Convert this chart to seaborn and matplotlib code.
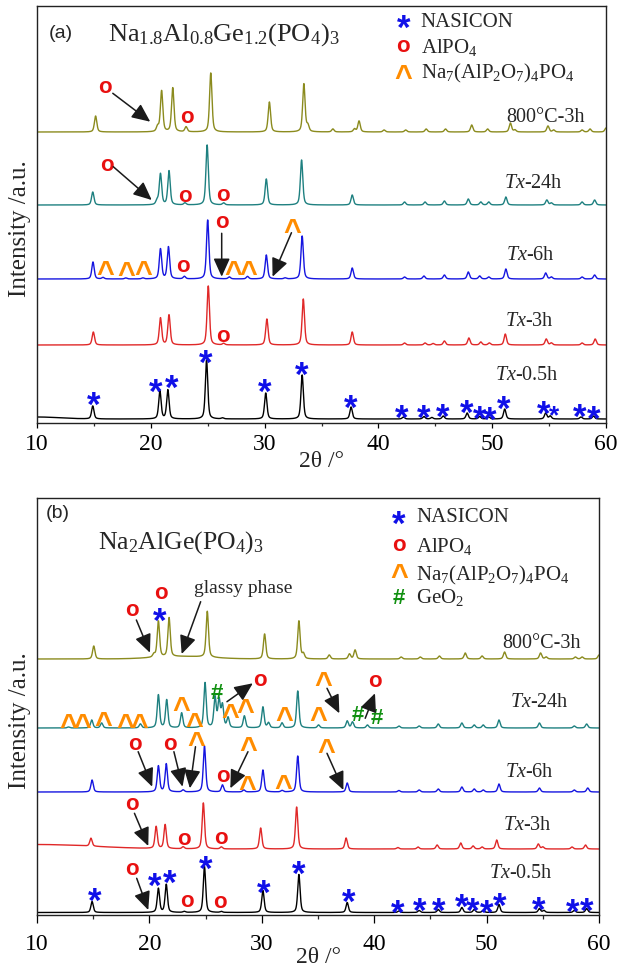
import numpy as np
import pandas as pd
import matplotlib
matplotlib.use("Agg")
import matplotlib.pyplot as plt
import seaborn as sns
from matplotlib.ticker import MultipleLocator

sns.set_theme(style="ticks")
plt.rcParams["font.family"] = ["Liberation Serif", "DejaVu Serif"]
plt.rcParams["mathtext.fontset"] = "custom"
plt.rcParams["mathtext.rm"] = "Liberation Serif"
plt.rcParams["mathtext.it"] = "Liberation Serif:italic"
plt.rcParams["mathtext.default"] = "regular"

# ------------------------------------------------------------------ data
sample_labels = [r"$\mathit{Tx}$-0.5h", r"$\mathit{Tx}$-3h", r"$\mathit{Tx}$-6h",
                 r"$\mathit{Tx}$-24h", "800°C-3h"]
x_ticks = [10, 20, 30, 40, 50, 60]

# panel (a)  Na1.8Al0.8Ge1.2(PO4)3 : peak positions (2theta) / intensities (a.u.)
a_05h_pos = [14.9, 20.8, 21.5, 24.9, 26.3, 30.1, 33.3, 37.6, 42.2, 44.0, 44.7, 45.7,
             47.8, 48.9, 49.7, 51.1, 54.7, 55.1, 57.8, 58.9]
a_05h_int = [13, 28, 29, 59, 1, 26, 44, 12, 2, 2.5, 1.5, 3, 6, 2.5, 2, 10, 6, 3, 2, 3]
a_3h_pos = [14.95, 20.85, 21.6, 25.05, 26.4, 30.2, 33.4, 37.7, 42.3, 44.1, 44.8, 45.8,
            47.95, 49.0, 49.75, 51.15, 54.75, 55.2, 57.9, 59.05]
a_3h_int = [13, 27, 30, 59, 1.5, 26, 46, 13, 2, 2, 1.5, 4, 7, 3, 2, 11, 6, 2, 2, 6]
a_6h_pos = [14.92, 15.8, 17.8, 19.3, 20.85, 21.55, 22.95, 25.0, 26.9, 28.5, 30.15, 31.8,
            33.3, 37.7, 42.3, 44.0, 45.8, 47.9, 48.9, 49.7, 51.2, 54.7, 55.2, 57.9, 59.0]
a_6h_int = [17, 1.5, 1, 1, 30, 32, 2.5, 59, 2, 2.5, 24, 1, 43, 11, 2, 3, 4, 7, 3, 2, 10,
            6, 2, 2, 4]
a_24h_pos = [14.9, 20.55, 20.85, 21.6, 23.0, 24.95, 26.4, 30.15, 33.25, 37.7, 42.3, 44.1,
             45.8, 47.9, 49.0, 49.7, 51.2, 54.8, 55.2, 57.9, 59.0]
a_24h_int = [13, 4, 31, 34, 2, 60, 2, 26, 45, 10, 3, 3, 4, 6, 3, 3, 8, 5, 2, 3, 5]
a_800_pos = [15.15, 20.6, 20.95, 21.93, 23.1, 25.27, 30.42, 33.45, 33.8, 36.0, 37.9, 38.3,
             40.5, 42.4, 44.2, 45.9, 48.2, 49.6, 51.6, 52.0, 54.9, 55.4, 57.9, 58.6, 60.0]
a_800_int = [16, 5, 41, 44, 5, 59, 30, 48, 6, 3, 3, 11, 2, 2, 3, 3, 7, 3, 9, 2, 6, 2, 2,
             3, 4]

# panel (b)  Na2AlGe(PO4)3
b_05h_pos = [14.9, 20.8, 21.5, 23.1, 24.9, 26.4, 30.1, 33.3, 37.6, 42.2, 44.0, 45.7,
             47.8, 48.9, 49.7, 51.1, 54.7, 55.1, 57.8, 58.9]
b_05h_int = [11, 24, 28, 1, 46, 1, 22, 38, 10, 1.5, 2, 3, 5, 3, 2, 8, 4, 2, 2, 4]
b_3h_pos = [14.8, 20.6, 21.4, 23.0, 24.8, 26.4, 29.9, 33.1, 37.5, 42.1, 43.9, 45.6,
            47.7, 48.8, 49.6, 50.9, 54.6, 55.0, 57.6, 58.8]
b_3h_int = [8, 22, 24, 2, 46, 2, 21, 42, 11, 1.5, 2, 4, 6, 3, 2, 9, 5, 2, 2, 4]
b_6h_pos = [14.9, 20.8, 21.5, 23.0, 24.9, 26.5, 28.4, 30.1, 31.8, 33.2, 37.6, 42.2,
            44.0, 45.7, 47.8, 48.9, 49.7, 51.1, 54.7, 57.8, 59.0]
b_6h_int = [12, 26, 28, 2, 46, 7, 2, 22, 1.5, 36, 9, 1.5, 2, 3, 5, 3, 2, 8, 4, 2, 4]
b_24h_pos = [12.8, 14.87, 15.75, 19.2, 20.8, 21.54, 22.87, 24.95, 25.84, 26.2, 26.5,
             27.0, 28.45, 30.1, 30.6, 31.8, 33.2, 35.05, 37.6, 38.07, 39.4, 42.2, 44.0,
             45.7, 47.8, 48.9, 49.7, 51.1, 54.7, 57.8, 58.9]
b_24h_int = [1, 8, 5, 4, 33, 28, 15, 45, 30, 27, 22, 10, 12, 21, 5, 5, 37, 3, 7, 6, 3,
             2, 2, 4, 5, 3, 3, 8, 5, 2, 4]
b_800_pos = [15.05, 20.4, 20.8, 21.75, 25.15, 30.25, 33.3, 33.7, 36.0, 37.8, 38.3, 42.4,
             44.1, 45.8, 48.1, 49.6, 51.6, 54.8, 55.3, 57.9, 58.5, 60.0]
b_800_int = [13, 3, 36, 39, 46, 25, 38, 5, 4, 5, 9, 2, 2, 3, 6, 3, 7, 6, 2, 2, 2, 4]

# broad amorphous contributions: centre, height, sigma
a_05h_bg = [10.0, 2.0, 2.0]
b_3h_bg = [10.0, 4.5, 5.0]
b_800_glassy = [23.0, 2.5, 2.5]

# ------------------------------------------------------------------ layout / style
a_offsets = [4, 78, 144, 218, 291]
b_offsets = [2.5, 66, 123, 187, 256]
trace_colors = ["#000000", "#E02828", "#1515E0", "#1E8080", "#8B8B1E"]

SYM = {
    "N": dict(s="*", color="#1010E8", size=25, dy=-7.8),
    "n": dict(s="*", color="#1010E8", size=19, dy=-5.9),
    "A": dict(s="o", color="#E81010", size=16, dy=0.0),
    "P": dict(s="^", color="#FF8C00", size=22, dy=-5.9),
    "G": dict(s="#", color="#109010", size=16, dy=-1.6),
}

grid = np.linspace(10, 60, 5001)


def profile(pos, inten, bg=None, fwhm=0.25, eta=0.5):
    y = np.zeros_like(grid)
    hw = fwhm / 2
    for p, h in zip(pos, inten):
        d = (grid - p) / hw
        y += h * (eta / (1 + d ** 2) + (1 - eta) * np.exp(-np.log(2) * d ** 2))
    if bg is not None:
        c, h, s = bg
        y += h * np.exp(-0.5 * ((grid - c) / s) ** 2)
    return y


def put_sym(ax, kind, x, y):
    st = SYM[kind]
    ax.annotate(st["s"], xy=(x, y), xytext=(0, st["dy"]), textcoords="offset points",
                ha="center", va="center", color=st["color"], fontsize=st["size"],
                fontweight="bold", family=["Liberation Sans", "DejaVu Sans"],
                annotation_clip=False)


def put_arrow(ax, x0, y0, x1, y1):
    ax.annotate("", xy=(x1, y1), xytext=(x0, y0),
                arrowprops=dict(arrowstyle="-|>,head_length=0.8,head_width=0.36",
                                mutation_scale=14, color="k", lw=1.1,
                                shrinkA=0, shrinkB=0))


def draw_traces(ax, patterns, offsets):
    for (pos, inten, bg), off, col in zip(patterns, offsets, trace_colors):
        df = pd.DataFrame({"two_theta": grid, "intensity": profile(pos, inten, bg) + off})
        sns.lineplot(data=df, x="two_theta", y="intensity", ax=ax, color=col,
                     linewidth=1.0, estimator=None, sort=False, legend=False)


def style_axes(ax, height, ticklen, pad, xlab_y, ylab_x):
    ax.set_xlim(10, 60)
    ax.set_ylim(0, height)
    ax.set_xticks(x_ticks)
    ax.xaxis.set_minor_locator(MultipleLocator(5))
    ax.set_yticks([])
    ax.tick_params(axis="x", which="major", direction="out", length=ticklen,
                   width=0.9, pad=pad, labelsize=17, colors="black")
    ax.tick_params(axis="x", which="minor", direction="out", length=ticklen * 0.55,
                   width=0.9)
    for sp in ax.spines.values():
        sp.set_visible(True)
        sp.set_color("#222222")
        sp.set_linewidth(1.0)
    ax.set_xlabel("2θ /°", fontsize=17)
    ax.xaxis.set_label_coords(0.5, xlab_y)
    ax.set_ylabel("Intensity /a.u.", fontsize=18)
    ax.yaxis.set_label_coords(ylab_x, 0.465)


fig = plt.figure(figsize=(6.19, 9.69), dpi=100)
axA = fig.add_axes([37 / 619, (969 - 423) / 969, 569 / 619, 417 / 969])
axB = fig.add_axes([37 / 619, (969 - 915) / 969, 562 / 619, 417.5 / 969])

# ------------------------------------------------------------------ panel (a)
draw_traces(axA, [(a_05h_pos, a_05h_int, a_05h_bg), (a_3h_pos, a_3h_int, None),
                  (a_6h_pos, a_6h_int, None), (a_24h_pos, a_24h_int, None),
                  (a_800_pos, a_800_int, None)], a_offsets)
style_axes(axA, 417, 3.5, 4.1, -0.067, -0.0105)

axA.text(11.0, 389.7, "(a)", family=["Liberation Sans"], fontsize=14, ha="left", va="center")
axA.text(16.2, 382.3, r"Na$_{1.8}$Al$_{0.8}$Ge$_{1.2}$(PO$_4$)$_3$", fontsize=19,
         ha="left", va="baseline")
for kind, yy, txt, yb in [("N", 404.7, "NASICON", 395.7), ("A", 377, r"AlPO$_4$", 370.3),
                          ("P", 352.3, r"Na$_7$(AlP$_2$O$_7$)$_4$PO$_4$", 344.7)]:
    put_sym(axA, kind, 42.2, yy)
    axA.text(43.7, yb, txt, fontsize=15, ha="left", va="baseline")

for lab, xr, yy in zip(sample_labels, [55.9, 55.4, 55.5, 56.2, 58.1],
                       [47.6, 102, 167, 240, 306]):
    axA.text(xr, yy, lab, fontsize=14.5, ha="right", va="center")

a_syms = [("A", 15.96, 335.7), ("A", 23.14, 306),
          ("A", 16.12, 258), ("A", 23.0, 226.3), ("A", 26.3, 227.3),
          ("A", 26.23, 200.3), ("P", 32.43, 198.6), ("P", 15.98, 156.3),
          ("P", 17.88, 154.7), ("P", 19.34, 156.3), ("A", 22.86, 157),
          ("P", 27.25, 156.3), ("P", 28.57, 156.3),
          ("A", 26.37, 86),
          ("N", 14.95, 27), ("N", 20.4, 40), ("N", 21.8, 44), ("N", 24.8, 69),
          ("N", 30.0, 40), ("N", 33.23, 57), ("N", 37.57, 24), ("N", 42.07, 14.7),
          ("N", 43.95, 14.7), ("N", 45.65, 15.7), ("N", 47.76, 19), ("N", 48.87, 13.7),
          ("N", 49.8, 12.3), ("N", 50.98, 23), ("N", 54.5, 18), ("n", 55.45, 14.7),
          ("N", 57.65, 15.7), ("N", 58.9, 13.7)]
for k, x, y in a_syms:
    put_sym(axA, k, x, y)
for arr in [(16.66, 329.7, 19.95, 301.3), (16.7, 256.3, 20.08, 223),
            (26.23, 189.7, 26.23, 146.3), (32.36, 190.3, 30.7, 146.3)]:
    put_arrow(axA, *arr)

# ------------------------------------------------------------------ panel (b)
draw_traces(axB, [(b_05h_pos, b_05h_int, None), (b_3h_pos, b_3h_int, b_3h_bg),
                  (b_6h_pos, b_6h_int, None), (b_24h_pos, b_24h_int, None),
                  (b_800_pos, b_800_int, b_800_glassy)], b_offsets)
style_axes(axB, 417.5, 5.5, 8.2, -0.0766, -0.0107)

axB.text(10.8, 401.7, "(b)", family=["Liberation Sans"], fontsize=14, ha="left", va="center")
axB.text(15.4, 366.7, r"Na$_2$AlGe(PO$_4$)$_3$", fontsize=18.5, ha="left", va="baseline")
for kind, yy, txt, yb in [("N", 400.7, "NASICON", 393.3), ("A", 369.3, r"AlPO$_4$", 363.3),
                          ("P", 345, r"Na$_7$(AlP$_2$O$_7$)$_4$PO$_4$", 335),
                          ("G", 318.3, r"GeO$_2$", 311.7)]:
    put_sym(axB, kind, 42.2, yy)
    axB.text(43.75, yb, txt, fontsize=15, ha="left", va="baseline")

for lab, xr, yy in zip(sample_labels, [55.86, 55.8, 56.0, 57.3, 58.4],
                       [42, 89, 142.3, 212.3, 271.7]):
    axB.text(xr, yy, lab, fontsize=14.5, ha="right", va="center")

axB.text(23.93, 321.7, "glassy phase", fontsize=14, ha="left", va="baseline")

b_syms = [("A", 18.42, 305), ("A", 21.05, 321.7), ("N", 20.95, 303.3),
          ("P", 12.79, 195), ("P", 14.06, 195), ("P", 15.9, 196.7), ("P", 17.83, 195),
          ("P", 19.1, 195), ("P", 22.87, 211.7), ("P", 23.97, 195.7), ("P", 27.17, 205),
          ("P", 28.5, 210), ("P", 32.0, 201.7), ("P", 34.98, 201.7), ("P", 35.5, 236.7),
          ("G", 26.04, 223.3), ("G", 38.5, 201.7), ("G", 40.25, 198.3),
          ("A", 29.8, 235), ("A", 40.07, 233.3),
          ("A", 18.67, 170), ("A", 21.8, 170), ("P", 24.18, 176.7), ("A", 26.5, 138.3),
          ("P", 28.84, 171.7), ("P", 28.67, 133.3), ("P", 31.9, 134), ("P", 35.7, 170),
          ("A", 18.42, 111), ("A", 23.05, 75.7), ("A", 26.4, 76.7),
          ("A", 18.42, 45.7), ("A", 23.3, 13.3), ("A", 26.3, 12.3),
          ("N", 15.1, 23.3), ("N", 20.5, 38.3), ("N", 21.77, 41.7), ("N", 25.0, 55),
          ("N", 30.2, 31.7), ("N", 33.3, 50), ("N", 37.75, 22.3), ("N", 42.1, 11.7),
          ("N", 44.07, 13.3), ("N", 45.7, 13.3), ("N", 47.78, 17.7), ("N", 48.8, 13.3),
          ("N", 50.0, 11.7), ("N", 51.13, 18.3), ("N", 54.6, 14.3), ("N", 57.7, 12.3),
          ("N", 58.9, 13.3)]
for k, x, y in b_syms:
    put_sym(axB, k, x, y)
for arr in [(18.84, 295, 20.05, 262.3), (24.56, 313.3, 22.87, 261),
            (26.9, 213.3, 29.2, 231.7), (35.8, 226.7, 36.9, 201.7),
            (39.2, 196.7, 40.07, 221.7),
            (19.0, 163.3, 20.25, 128.3), (22.18, 163.3, 22.95, 128.3),
            (24.1, 168.3, 23.6, 126.7), (28.77, 163.3, 27.2, 126.7),
            (35.8, 161.7, 37.26, 125),
            (18.67, 101.7, 19.9, 69), (18.87, 36.7, 19.9, 5)]:
    put_arrow(axB, *arr)

fig.savefig("out.png", dpi=100)
